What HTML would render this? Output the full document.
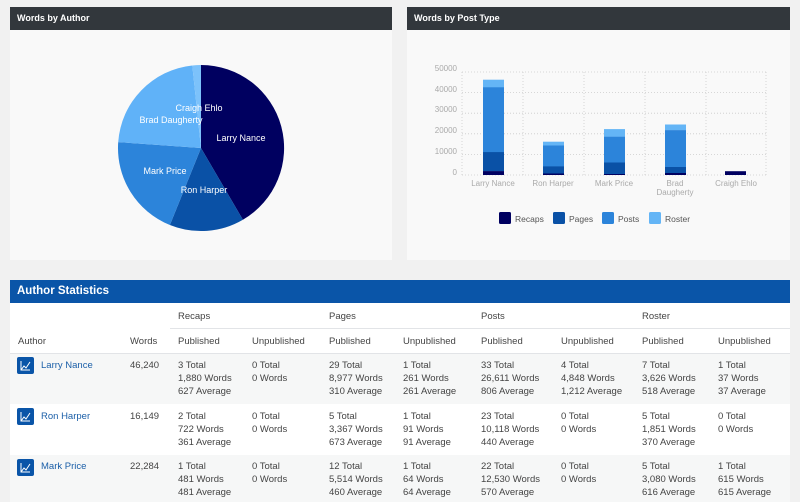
<!DOCTYPE html>
<html><head><meta charset="utf-8"><style>
body{margin:0;width:800px;height:502px;background:#f1f1f1;font-family:"Liberation Sans",sans-serif;overflow:hidden;position:relative}
.a{position:absolute}
.hd{background:#32373c;color:#fff;font-size:9px;font-weight:bold;line-height:23px;padding-left:7px;box-sizing:border-box}
.t{position:absolute;font-size:9.5px;color:#444;line-height:13px}
.lk{color:#1b5fa8}
.ic{position:absolute;width:17px;height:17px;background:#0a55a8;border-radius:2px}
.ic svg{position:absolute;left:0;top:0}
</style></head><body>
<div class="a" style="left:10px;top:7px;width:382px;height:253px;background:#f9f9f9"></div>
<div class="a hd" style="left:10px;top:7px;width:382px;height:23px">Words by Author</div>
<div class="a" style="left:407px;top:7px;width:383px;height:253px;background:#f9f9f9"></div>
<div class="a hd" style="left:407px;top:7px;width:383px;height:23px">Words by Post Type</div>
<svg class="a" style="left:0;top:0" width="800" height="262" font-family="Liberation Sans">
<path d="M201 148 L201 65 A83 83 0 0 1 242.9 219.7Z" fill="#000060"/>
<path d="M201 148 L242.9 219.7 A83 83 0 0 1 169.9 225Z" fill="#0a51a6"/>
<path d="M201 148 L169.9 225 A83 83 0 0 1 118.2 142.1Z" fill="#2c84da"/>
<path d="M201 148 L118.2 142.1 A83 83 0 0 1 192.3 65.5Z" fill="#60b2f8"/>
<path d="M201 148 L192.3 65.5 A83 83 0 0 1 201 65Z" fill="#7cc2fb"/>
<g fill="#fff" font-size="9" text-anchor="middle">
<text x="241" y="141">Larry Nance</text>
<text x="199" y="111">Craigh Ehlo</text>
<text x="171" y="123">Brad Daugherty</text>
<text x="165" y="174">Mark Price</text>
<text x="204" y="193">Ron Harper</text>
</g>
<g stroke="#ccc" stroke-dasharray="1,2" stroke-width="0.8">
<line x1="462" y1="72" x2="766" y2="72"/><line x1="462" y1="92.6" x2="766" y2="92.6"/>
<line x1="462" y1="113.2" x2="766" y2="113.2"/><line x1="462" y1="133.8" x2="766" y2="133.8"/>
<line x1="462" y1="154.4" x2="766" y2="154.4"/><line x1="462" y1="175" x2="766" y2="175"/>
<line x1="462" y1="72" x2="462" y2="175"/><line x1="523" y1="72" x2="523" y2="175"/>
<line x1="584" y1="72" x2="584" y2="175"/><line x1="645" y1="72" x2="645" y2="175"/>
<line x1="706" y1="72" x2="706" y2="175"/><line x1="766" y1="72" x2="766" y2="175"/>
</g>
<g fill="#aaa" font-size="8" text-anchor="end">
<text x="457" y="71">50000</text><text x="457" y="92">40000</text><text x="457" y="112">30000</text>
<text x="457" y="133">20000</text><text x="457" y="154">10000</text><text x="457" y="175">0</text>
</g>
<g fill="#aaa" font-size="8" text-anchor="middle">
<text x="493" y="186">Larry Nance</text><text x="553" y="186">Ron Harper</text><text x="614" y="186">Mark Price</text>
<text x="675" y="186">Brad</text><text x="675" y="195">Daugherty</text><text x="736" y="186">Craigh Ehlo</text>
</g>
<rect x="483" y="79.7" width="21" height="8.6" fill="#64b5f6"/>
<rect x="483" y="87.3" width="21" height="65.9" fill="#2c84da"/>
<rect x="483" y="152.1" width="21" height="19.1" fill="#0a51a6"/>
<rect x="483" y="171.1" width="21" height="3.9" fill="#000060"/>
<rect x="543" y="141.7" width="21" height="4.4" fill="#64b5f6"/>
<rect x="543" y="145.5" width="21" height="21.0" fill="#2c84da"/>
<rect x="543" y="166.4" width="21" height="7.2" fill="#0a51a6"/>
<rect x="543" y="173.5" width="21" height="1.5" fill="#000060"/>
<rect x="604" y="129.1" width="21" height="7.8" fill="#64b5f6"/>
<rect x="604" y="136.7" width="21" height="26.1" fill="#2c84da"/>
<rect x="604" y="162.5" width="21" height="11.6" fill="#0a51a6"/>
<rect x="604" y="174" width="21" height="1" fill="#000060"/>
<rect x="665" y="124.5" width="21" height="5.6" fill="#64b5f6"/>
<rect x="665" y="130.1" width="21" height="37" fill="#2c84da"/>
<rect x="665" y="167" width="21" height="6" fill="#0a51a6"/>
<rect x="665" y="173" width="21" height="2" fill="#000060"/>
<rect x="725" y="171.2" width="21" height="3.8" fill="#000060"/>
<g font-size="8.5" fill="#555">
<rect x="499" y="212" width="12" height="12" rx="1.5" fill="#000060"/><text x="515" y="222">Recaps</text>
<rect x="553" y="212" width="12" height="12" rx="1.5" fill="#0a51a6"/><text x="569" y="222">Pages</text>
<rect x="602" y="212" width="12" height="12" rx="1.5" fill="#2c84da"/><text x="618" y="222">Posts</text>
<rect x="649" y="212" width="12" height="12" rx="1.5" fill="#64b5f6"/><text x="665" y="222">Roster</text>
</g>
</svg>
<div class="a" style="left:10px;top:280px;width:780px;height:222px;background:#fff"></div>
<div class="a" style="left:10px;top:280px;width:780px;height:23px;background:#0a55a8;color:#fff;font-weight:bold;font-size:11.5px;line-height:23px;padding-left:7px;box-sizing:border-box">Author Statistics</div>
<div class="a" style="left:170px;top:328px;width:620px;height:1px;background:#e2e4e7"></div>
<div class="a" style="left:10px;top:353px;width:780px;height:1px;background:#e2e4e7"></div>
<div class="a" style="left:10px;top:354px;width:780px;height:50px;background:#f6f7f7"></div>
<div class="a" style="left:10px;top:455px;width:780px;height:47px;background:#f6f7f7"></div>
<div class="t" style="left:178px;top:310px">Recaps</div>
<div class="t" style="left:329px;top:310px">Pages</div>
<div class="t" style="left:481px;top:310px">Posts</div>
<div class="t" style="left:642px;top:310px">Roster</div>
<div class="t" style="left:18px;top:335px">Author</div>
<div class="t" style="left:130px;top:335px">Words</div>
<div class="t" style="left:178px;top:335px">Published</div>
<div class="t" style="left:252px;top:335px">Unpublished</div>
<div class="t" style="left:329px;top:335px">Published</div>
<div class="t" style="left:403px;top:335px">Unpublished</div>
<div class="t" style="left:481px;top:335px">Published</div>
<div class="t" style="left:561px;top:335px">Unpublished</div>
<div class="t" style="left:642px;top:335px">Published</div>
<div class="t" style="left:718px;top:335px">Unpublished</div>

<div class="ic" style="left:17px;top:357px"><svg width="17" height="17"><path d="M4 13 L7 9 L9 11 L13 5 M4 4 V13 H13" stroke="#fff" fill="none" stroke-width="1"/></svg></div>
<div class="t lk" style="left:41px;top:359px">Larry Nance</div>
<div class="t" style="left:130px;top:359px">46,240</div>
<div class="t" style="left:178px;top:359px">3 Total<br>1,880 Words<br>627 Average</div>
<div class="t" style="left:252px;top:359px">0 Total<br>0 Words</div>
<div class="t" style="left:329px;top:359px">29 Total<br>8,977 Words<br>310 Average</div>
<div class="t" style="left:403px;top:359px">1 Total<br>261 Words<br>261 Average</div>
<div class="t" style="left:481px;top:359px">33 Total<br>26,611 Words<br>806 Average</div>
<div class="t" style="left:561px;top:359px">4 Total<br>4,848 Words<br>1,212 Average</div>
<div class="t" style="left:642px;top:359px">7 Total<br>3,626 Words<br>518 Average</div>
<div class="t" style="left:718px;top:359px">1 Total<br>37 Words<br>37 Average</div>

<div class="ic" style="left:17px;top:408px"><svg width="17" height="17"><path d="M4 13 L7 9 L9 11 L13 5 M4 4 V13 H13" stroke="#fff" fill="none" stroke-width="1"/></svg></div>
<div class="t lk" style="left:41px;top:410px">Ron Harper</div>
<div class="t" style="left:130px;top:410px">16,149</div>
<div class="t" style="left:178px;top:410px">2 Total<br>722 Words<br>361 Average</div>
<div class="t" style="left:252px;top:410px">0 Total<br>0 Words</div>
<div class="t" style="left:329px;top:410px">5 Total<br>3,367 Words<br>673 Average</div>
<div class="t" style="left:403px;top:410px">1 Total<br>91 Words<br>91 Average</div>
<div class="t" style="left:481px;top:410px">23 Total<br>10,118 Words<br>440 Average</div>
<div class="t" style="left:561px;top:410px">0 Total<br>0 Words</div>
<div class="t" style="left:642px;top:410px">5 Total<br>1,851 Words<br>370 Average</div>
<div class="t" style="left:718px;top:410px">0 Total<br>0 Words</div>

<div class="ic" style="left:17px;top:459px"><svg width="17" height="17"><path d="M4 13 L7 9 L9 11 L13 5 M4 4 V13 H13" stroke="#fff" fill="none" stroke-width="1"/></svg></div>
<div class="t lk" style="left:41px;top:460px">Mark Price</div>
<div class="t" style="left:130px;top:460px">22,284</div>
<div class="t" style="left:178px;top:460px">1 Total<br>481 Words<br>481 Average</div>
<div class="t" style="left:252px;top:460px">0 Total<br>0 Words</div>
<div class="t" style="left:329px;top:460px">12 Total<br>5,514 Words<br>460 Average</div>
<div class="t" style="left:403px;top:460px">1 Total<br>64 Words<br>64 Average</div>
<div class="t" style="left:481px;top:460px">22 Total<br>12,530 Words<br>570 Average</div>
<div class="t" style="left:561px;top:460px">0 Total<br>0 Words</div>
<div class="t" style="left:642px;top:460px">5 Total<br>3,080 Words<br>616 Average</div>
<div class="t" style="left:718px;top:460px">1 Total<br>615 Words<br>615 Average</div>
</body></html>
